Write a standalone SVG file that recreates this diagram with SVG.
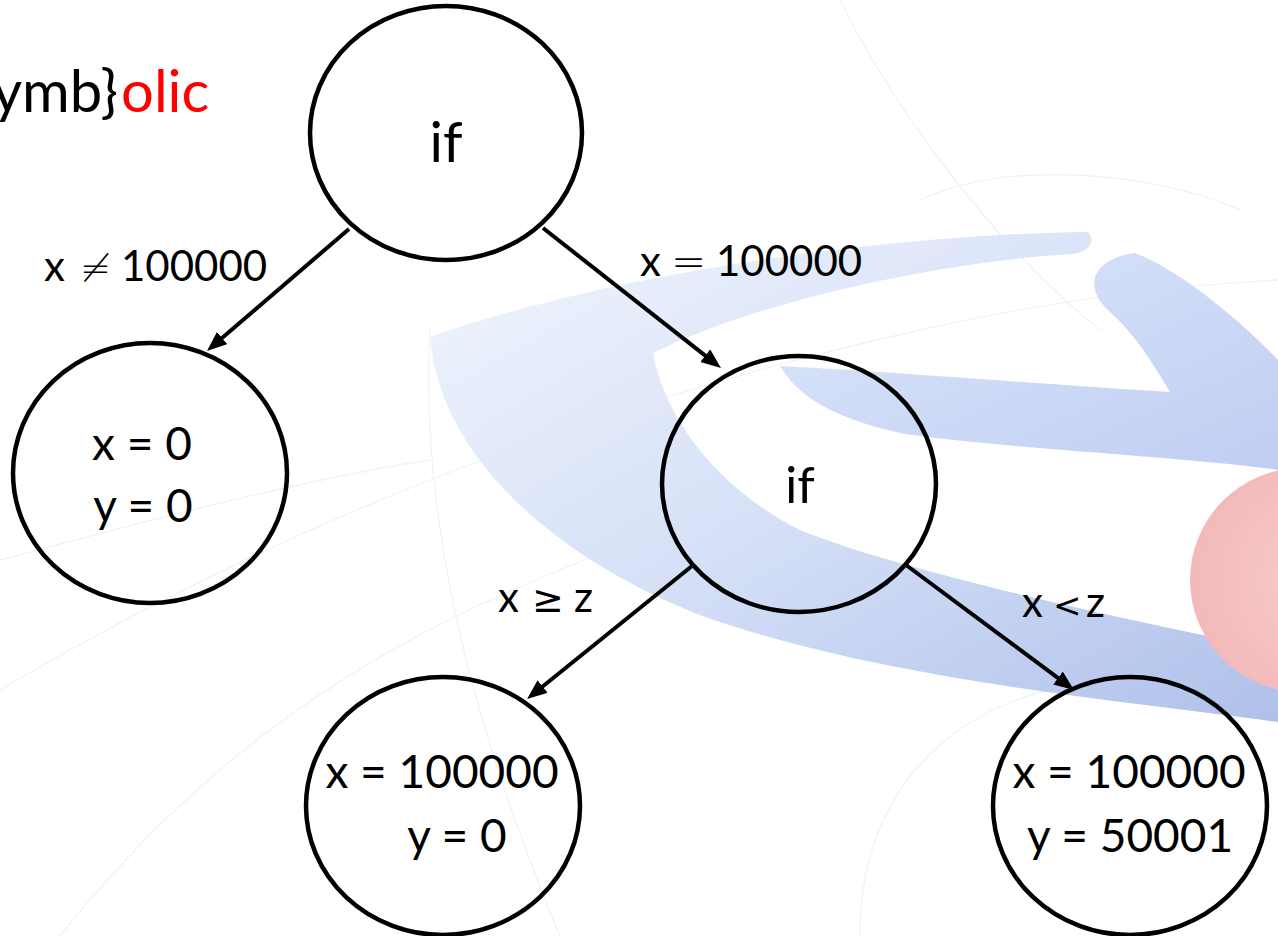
<svg xmlns="http://www.w3.org/2000/svg" width="1278" height="936" viewBox="0 0 1278 936">
<defs>
<style>
.node{fill:none;stroke:#000;stroke-width:4.5}
.edge{stroke:#000;stroke-width:4;fill:none}
.t{font-family:Lato,"Liberation Sans",sans-serif;fill:#000}
.lbl{font-family:Lato,"Liberation Sans",sans-serif;fill:#000;font-size:42px}
.op{font-family:"DejaVu Sans",sans-serif;font-weight:200}
.op2{font-family:"DejaVu Sans",sans-serif;font-weight:normal}
.grid{fill:none;stroke:#f0f2f6;stroke-width:1.3}
</style>
<marker id="ah" markerUnits="userSpaceOnUse" markerWidth="22" markerHeight="18" refX="4" refY="8" orient="auto">
<path d="M0,0 L20,8 L0,16 z" fill="#000"/>
</marker>
<linearGradient id="gBlue" x1="0" y1="0" x2="1" y2="1">
<stop offset="0" stop-color="#f1f5fd"/>
<stop offset="0.5" stop-color="#d5e0f7"/>
<stop offset="1" stop-color="#afc0ea"/>
</linearGradient>
<linearGradient id="gBlue2" x1="0" y1="0" x2="1" y2="1">
<stop offset="0" stop-color="#dde8fb"/>
<stop offset="1" stop-color="#bfcdf2"/>
</linearGradient>
<radialGradient id="gRed" cx="0.6" cy="0.5" r="0.6">
<stop offset="0" stop-color="#f8cccc"/>
<stop offset="1" stop-color="#f3b9b9"/>
</radialGradient>
</defs>
<rect width="1278" height="936" fill="#fff"/>
<g id="background">
<path class="grid" d="M0,690 C220,560 520,420 920,330 C1050,300 1180,285 1278,280"/>
<path class="grid" d="M60,936 C200,760 380,620 700,520"/>
<path class="grid" d="M430,330 C420,520 470,720 560,936"/>
<path class="grid" d="M860,936 C860,800 940,700 1100,680 C1200,670 1260,700 1278,720"/>
<path class="grid" d="M0,560 C150,520 300,480 430,460"/>
<path class="grid" d="M920,200 C1000,160 1150,170 1240,210"/>
<path class="grid" d="M840,0 C900,120 1000,250 1100,330"/>
<path d="M1088,232 C900,234 620,270 430,337 C440,460 560,560 700,615 C880,680 1120,700 1278,722 L1278,650 C1100,615 900,570 800,530 C720,490 665,420 653,353 C760,300 940,262 1072,254 C1090,252 1096,240 1088,232 Z" fill="url(#gBlue)"/>
<path d="M780,366 C900,372 1050,385 1170,392 C1145,350 1130,330 1110,312 C1080,285 1095,258 1135,253 C1180,270 1240,320 1278,360 L1278,470 C1200,458 1000,448 905,434 C840,420 800,400 780,366 Z" fill="url(#gBlue2)"/>
<circle cx="1302" cy="580" r="112" fill="url(#gRed)"/>
</g>
<g id="title">
<text class="t" x="118" y="112" font-size="58" text-anchor="end">ymb}</text>
<text class="t" x="121" y="112" font-size="58" style="fill:#ff0000">olic</text>
</g>
<g id="connectors">
<line class="edge" x1="349" y1="229" x2="219.1" y2="340.6" marker-end="url(#ah)"/>
<line class="edge" x1="543" y1="228" x2="708.4" y2="358.1" marker-end="url(#ah)"/>
<line class="edge" x1="692" y1="566" x2="539.5" y2="689" marker-end="url(#ah)"/>
<line class="edge" x1="906" y1="565" x2="1061.2" y2="680.4" marker-end="url(#ah)"/>
<text class="lbl" y="281"><tspan x="44">x</tspan><tspan class="op" x="80" font-size="37">≠</tspan><tspan x="121">100000</tspan></text>
<text class="lbl" y="276"><tspan x="640">x</tspan><tspan class="op" x="671" font-size="42">=</tspan><tspan x="716">100000</tspan></text>
<text class="lbl" y="612"><tspan x="498">x</tspan><tspan class="op2" x="532" font-size="38">≥</tspan><tspan x="574">z</tspan></text>
<text class="lbl" y="617"><tspan x="1022">x</tspan><tspan class="op2" x="1053" font-size="34">&lt;</tspan><tspan x="1086">z</tspan></text>
</g>
<g id="n_root">
<ellipse class="node" cx="446" cy="133" rx="136" ry="127"/>
<text class="t" x="446" y="162" font-size="56" text-anchor="middle">if</text>
</g>
<g id="n_left">
<ellipse class="node" cx="150" cy="473" rx="137" ry="130"/>
<text class="t" x="142" y="460" font-size="46" text-anchor="middle">x = 0</text>
<text class="t" x="143" y="522" font-size="46" text-anchor="middle">y = 0</text>
</g>
<g id="n_mid">
<ellipse class="node" cx="799" cy="484" rx="137" ry="128"/>
<text class="t" x="800" y="503" font-size="50" text-anchor="middle">if</text>
</g>
<g id="n_bl">
<ellipse class="node" cx="443" cy="806" rx="137" ry="129"/>
<text class="t" x="442" y="788" font-size="46" text-anchor="middle">x = 100000</text>
<text class="t" x="457" y="852" font-size="46" text-anchor="middle">y = 0</text>
</g>
<g id="n_br">
<ellipse class="node" cx="1130" cy="806" rx="137" ry="129"/>
<text class="t" x="1129" y="788" font-size="46" text-anchor="middle">x = 100000</text>
<text class="t" x="1130" y="852" font-size="46" text-anchor="middle">y = 50001</text>
</g>
</svg>
